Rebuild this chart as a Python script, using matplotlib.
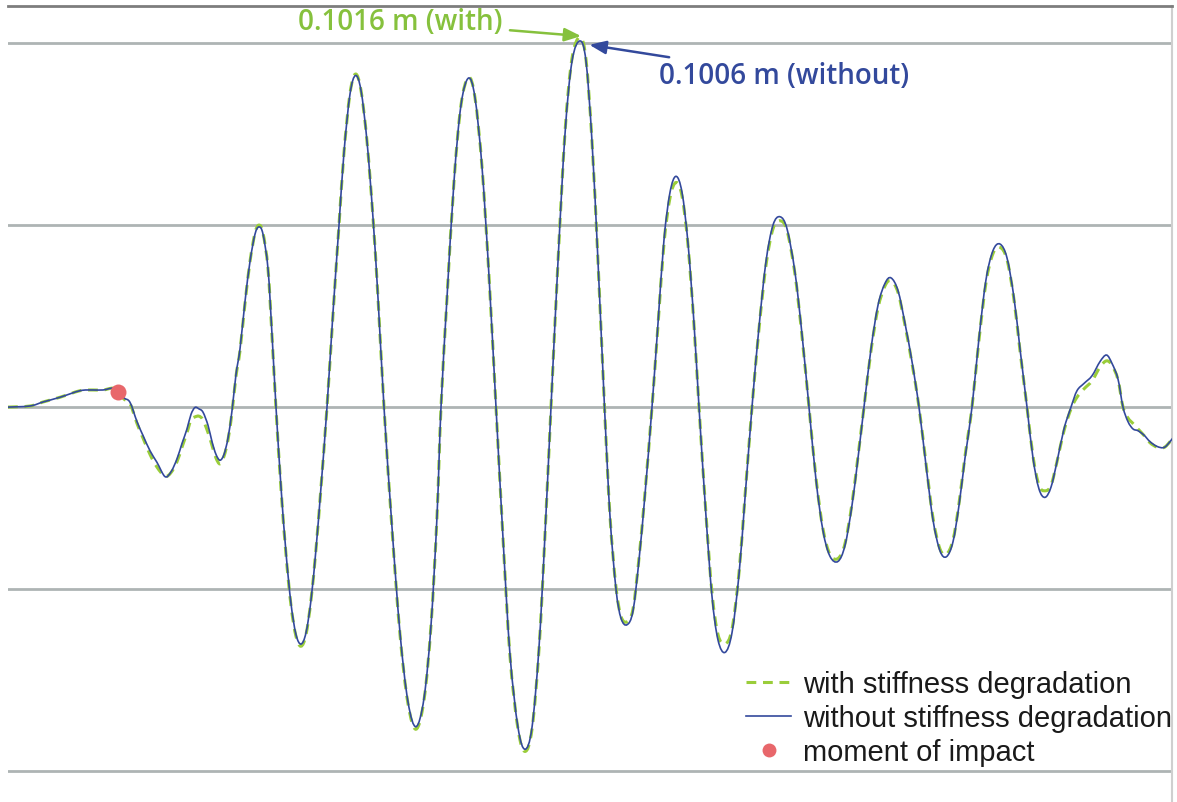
import matplotlib
matplotlib.use("Agg")
import numpy as np
import matplotlib.pyplot as plt
from matplotlib.path import Path
from matplotlib.patches import PathPatch

# time in s, displacement in m
time = [0.00, 0.44, 0.70, 1.04, 1.44, 1.70, 1.90, 2.10, 2.20,
        2.32, 2.44, 2.58, 2.70, 2.84, 2.98, 3.14, 3.26, 3.38, 3.48, 3.58,
        3.66, 3.74, 3.82, 3.90, 4.00, 4.08, 4.16, 4.24, 4.32, 4.40,
        4.48, 4.56, 4.64, 4.74, 4.84, 4.94, 5.02, 5.10, 5.20, 5.28,
        5.36, 5.46, 5.56, 5.66, 5.76, 5.86, 5.96, 6.06, 6.16, 6.26,
        6.38, 6.50, 6.62, 6.72, 6.84, 6.95, 7.06, 7.18, 7.30, 7.40,
        7.52, 7.68, 7.84, 8.00, 8.16, 8.32, 8.46, 8.58, 8.66, 8.78,
        8.92, 9.06, 9.21, 9.34, 9.48, 9.62, 9.76, 9.90, 10.04, 10.20,
        10.34, 10.48, 10.62, 10.74, 10.86, 11.00, 11.14, 11.28, 11.44, 11.56,
        11.68, 11.80, 11.93, 12.04, 12.16, 12.26, 12.38, 12.50, 12.62, 12.74,
        12.88, 13.00, 13.12, 13.24, 13.36, 13.48, 13.60, 13.72, 13.82, 13.96,
        14.08, 14.20, 14.34, 14.48, 14.62, 14.74, 14.88, 15.02, 15.16, 15.30,
        15.44, 15.58, 15.74, 15.88, 16.02, 16.16, 16.30, 16.44, 16.60, 16.74,
        16.88, 17.00, 17.12, 17.26, 17.40, 17.54, 17.66, 17.80, 17.94, 18.08,
        18.22, 18.36, 18.50, 18.64, 18.77, 18.90, 19.02, 19.14, 19.28, 19.42,
        19.56, 19.70, 19.84, 19.98, 20.12, 20.24, 20.38, 20.50, 20.62, 20.74,
        20.86, 20.98, 21.12, 21.26, 21.38, 21.52, 21.68, 21.84, 21.97, 22.08,
        22.20, 22.30, 22.40, 22.50, 22.60, 22.72, 22.84, 22.98, 23.12, 23.24,
        23.38]

disp_without = [0.0000, 0.0003, 0.0014, 0.0027, 0.0045, 0.0047, 0.0047, 0.0052, 0.0042,
                0.0025, 0.0013, -0.0040, -0.0078, -0.0120, -0.0152, -0.0191, -0.0178, -0.0142, -0.0100, -0.0060,
                -0.0020, -0.0001, -0.0005, -0.0014, -0.0050, -0.0095, -0.0130, -0.0146, -0.0130, -0.0085,
                -0.0010, 0.0090, 0.0160, 0.0290, 0.0400, 0.0475, 0.0495, 0.0475, 0.0380, 0.0200,
                0.0000, -0.0220, -0.0400, -0.0540, -0.0625, -0.0651, -0.0620, -0.0530, -0.0390, -0.0220,
                0.0000, 0.0260, 0.0500, 0.0700, 0.0860, 0.0911, 0.0870, 0.0730, 0.0520, 0.0300,
                0.0000, -0.0330, -0.0620, -0.0810, -0.0878, -0.0800, -0.0600, -0.0300, 0.0000, 0.0300,
                0.0620, 0.0830, 0.0904, 0.0850, 0.0660, 0.0360, 0.0000, -0.0360, -0.0680, -0.0880,
                -0.0940, -0.0880, -0.0660, -0.0350, 0.0000, 0.0400, 0.0750, 0.0950, 0.1006, 0.0950,
                0.0730, 0.0400, 0.0000, -0.0300, -0.0500, -0.0580, -0.0598, -0.0560, -0.0420, -0.0240,
                0.0000, 0.0230, 0.0460, 0.0590, 0.0634, 0.0590, 0.0450, 0.0230, 0.0000, -0.0300,
                -0.0520, -0.0640, -0.0674, -0.0620, -0.0460, -0.0250, 0.0000, 0.0220, 0.0400, 0.0500,
                0.0523, 0.0490, 0.0370, 0.0200, 0.0000, -0.0200, -0.0340, -0.0410, -0.0424, -0.0380,
                -0.0270, -0.0140, 0.0000, 0.0160, 0.0280, 0.0340, 0.0355, 0.0320, 0.0230, 0.0125,
                0.0000, -0.0160, -0.0310, -0.0395, -0.0411, -0.0370, -0.0270, -0.0140, 0.0000, 0.0190,
                0.0350, 0.0430, 0.0448, 0.0410, 0.0300, 0.0160, 0.0000, -0.0140, -0.0225, -0.0248,
                -0.0220, -0.0150, -0.0060, 0.0000, 0.0045, 0.0065, 0.0086, 0.0125, 0.0143, 0.0120,
                0.0077, 0.0000, -0.0040, -0.0060, -0.0065, -0.0077, -0.0095, -0.0108, -0.0111, -0.0095,
                -0.0070]

disp_with = [0.0000, 0.0003, 0.0014, 0.0027, 0.0045, 0.0047, 0.0047, 0.0052, 0.0042,
             0.0022, 0.0010, -0.0045, -0.0085, -0.0130, -0.0165, -0.0190, -0.0180, -0.0150, -0.0110, -0.0070,
             -0.0035, -0.0027, -0.0025, -0.0035, -0.0070, -0.0105, -0.0140, -0.0156, -0.0135, -0.0090,
             -0.0015, 0.0085, 0.0155, 0.0285, 0.0400, 0.0478, 0.0500, 0.0478, 0.0380, 0.0195,
             -0.0005, -0.0225, -0.0405, -0.0545, -0.0630, -0.0657, -0.0625, -0.0530, -0.0390, -0.0220,
             0.0000, 0.0255, 0.0500, 0.0700, 0.0862, 0.0915, 0.0870, 0.0730, 0.0520, 0.0300,
             0.0000, -0.0335, -0.0625, -0.0815, -0.0885, -0.0805, -0.0600, -0.0300, 0.0000, 0.0300,
             0.0620, 0.0830, 0.0906, 0.0850, 0.0660, 0.0360, 0.0000, -0.0360, -0.0685, -0.0885,
             -0.0946, -0.0885, -0.0665, -0.0350, 0.0000, 0.0400, 0.0755, 0.0958, 0.1016, 0.0955,
             0.0730, 0.0400, 0.0000, -0.0300, -0.0495, -0.0575, -0.0590, -0.0555, -0.0415, -0.0235,
             0.0000, 0.0225, 0.0450, 0.0575, 0.0617, 0.0580, 0.0445, 0.0225, 0.0000, -0.0295,
             -0.0510, -0.0625, -0.0651, -0.0610, -0.0455, -0.0245, 0.0000, 0.0215, 0.0390, 0.0490,
             0.0512, 0.0485, 0.0365, 0.0195, 0.0000, -0.0195, -0.0335, -0.0405, -0.0416, -0.0375,
             -0.0265, -0.0135, 0.0000, 0.0155, 0.0272, 0.0333, 0.0347, 0.0315, 0.0225, 0.0120,
             0.0000, -0.0155, -0.0305, -0.0390, -0.0404, -0.0365, -0.0265, -0.0135, 0.0000, 0.0185,
             0.0342, 0.0422, 0.0439, 0.0405, 0.0295, 0.0155, 0.0000, -0.0135, -0.0215, -0.0230,
             -0.0215, -0.0150, -0.0065, -0.0005, 0.0027, 0.0050, 0.0072, 0.0110, 0.0127, 0.0115,
             0.0075, 0.0000, -0.0030, -0.0045, -0.0060, -0.0078, -0.0098, -0.0110, -0.0111, -0.0095,
             -0.0070]

impact_time = 2.20
impact_disp = 0.0042
peak_time = 11.44
peak_with = 0.1016
peak_without = 0.1006

green = "#9acd3a"
blue = "#33499c"


def smooth_path(x, y):
    """Smoothed line (like a spreadsheet 'smoothed line') through the points."""
    p = np.column_stack([x, y])
    n = len(p)
    verts = [p[0]]
    codes = [Path.MOVETO]
    for i in range(n - 1):
        p0, p1 = p[max(i - 1, 0)], p[i]
        p2, p3 = p[i + 1], p[min(i + 2, n - 1)]
        verts += [p1 + (p2 - p0) / 6, p2 - (p3 - p1) / 6, p2]
        codes += [Path.CURVE4] * 3
    return Path(verts, codes)


fig = plt.figure(figsize=(11.77, 8.03), dpi=100)
ax = fig.add_axes([8 / 1177, 0, 1164 / 1177, 796 / 803])

dash = (0, (3.2, 2.2))
ax.add_patch(PathPatch(smooth_path(time, disp_with), fill=False, ec=green,
                       lw=2.2, ls=dash, zorder=2))
ax.add_patch(PathPatch(smooth_path(time, disp_without), fill=False, ec=blue,
                       lw=1.2, zorder=3))
ax.plot([impact_time], [impact_disp], "o", color="#e8676b", ms=11.5,
        mec="none", zorder=4)

# legend handles
h1, = ax.plot([], [], color=green, lw=2.2, ls=dash)
h2, = ax.plot([], [], color=blue, lw=1.2)
h3, = ax.plot([], [], "o", color="#e8676b", ms=10, mec="none")

ax.set_xlim(0, 23.28)
ax.set_ylim(-0.1085, 0.1102)
ax.set_yticks([-0.1, -0.05, 0, 0.05, 0.1])
ax.set_xticks([])
ax.tick_params(left=False, labelleft=False)
ax.yaxis.grid(True, color="#aeb4b4", lw=2)
ax.set_axisbelow(True)
for side in ["left", "bottom"]:
    ax.spines[side].set_visible(False)
ax.spines["top"].set_color("#7d7d7d")
ax.spines["top"].set_linewidth(2)
ax.spines["right"].set_color("#cfcfcf")
ax.spines["right"].set_linewidth(1.5)

ax.annotate("0.1016 m (with)", xy=(peak_time + 0.05, peak_with + 0.0003),
            xytext=(9.90, 0.1060), ha="right", va="center",
            fontsize=20, family="Open Sans", weight="semibold", color="#86c13d",
            arrowprops=dict(arrowstyle="-|>,head_length=0.5,head_width=0.2",
                            color="#86c13d", lw=1.8, shrinkA=3, shrinkB=1))
ax.annotate("0.1006 m (without)", xy=(peak_time + 0.16, peak_without - 0.0010),
            xytext=(13.02, 0.0912), ha="left", va="center",
            fontsize=20, family="Open Sans", weight="semibold", color=blue,
            arrowprops=dict(arrowstyle="-|>,head_length=0.5,head_width=0.2",
                            color=blue, lw=1.8, shrinkA=3, shrinkB=1))

leg = fig.legend([h1, h2, h3],
                 ["with stiffness degradation", "without stiffness degradation",
                  "moment of impact"],
                 loc="lower right", bbox_to_anchor=(1172 / 1177, 0.045),
                 frameon=False, prop={"family": "Liberation Sans", "size": 21},
                 handlelength=1.55, handletextpad=0.4, labelspacing=0.2,
                 borderpad=0, borderaxespad=0)
for t in leg.get_texts():
    t.set_color("#1a1a1a")

fig.savefig("out.png", dpi=100)
